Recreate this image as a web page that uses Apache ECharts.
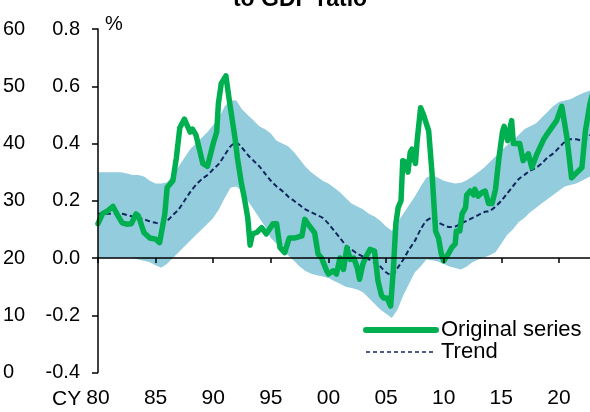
<!DOCTYPE html>
<html>
<head>
<meta charset="utf-8">
<script src="https://cdn.jsdelivr.net/npm/echarts@6/dist/echarts.min.js"></script>
<style>
  html, body { margin: 0; padding: 0; background: #fff; }
  #chart { width: 590px; height: 412px; }
</style>
</head>
<body>
<div id="chart"></div>
<script>
// values, in % (inner axis units)
const xTicks = [1980, 1985, 1990, 1995, 2000, 2005, 2010, 2015, 2020];

const bandYears = [1980, 1981, 1982, 1982.5, 1983, 1983.5, 1984, 1984.5, 1985, 1985.5, 1986, 1986.5,
  1987, 1987.5, 1988, 1988.5, 1989, 1989.5, 1990, 1990.5, 1991, 1991.5, 1992, 1992.5, 1993, 1993.5,
  1994, 1994.5, 1995, 1995.5, 1996, 1996.5, 1997, 1997.5, 1998, 1998.5, 1999, 1999.5, 2000, 2000.5,
  2001, 2001.5, 2002, 2002.5, 2003, 2003.5, 2004, 2004.5, 2005, 2005.5, 2006, 2006.5, 2007, 2007.5,
  2008, 2008.5, 2009, 2009.5, 2010, 2010.5, 2011, 2011.5, 2012, 2012.5, 2013, 2013.5, 2014, 2014.5,
  2015, 2015.5, 2016, 2016.5, 2017, 2017.5, 2018, 2018.5, 2019, 2019.5, 2020, 2020.5, 2021, 2021.5,
  2022, 2022.7];

const bandUpper = [0.30, 0.30, 0.30, 0.295, 0.29, 0.29, 0.285, 0.27, 0.26, 0.26, 0.265, 0.29,
  0.32, 0.35, 0.38, 0.40, 0.42, 0.44, 0.465, 0.49, 0.53, 0.55, 0.55, 0.52, 0.50, 0.48,
  0.46, 0.45, 0.435, 0.41, 0.40, 0.39, 0.37, 0.345, 0.32, 0.30, 0.285, 0.27, 0.26, 0.245,
  0.23, 0.21, 0.19, 0.18, 0.17, 0.155, 0.145, 0.13, 0.11, 0.095, 0.125, 0.155, 0.185, 0.215,
  0.25, 0.28, 0.29, 0.28, 0.27, 0.265, 0.26, 0.263, 0.272, 0.285, 0.30, 0.315, 0.335, 0.355,
  0.375, 0.395, 0.41, 0.43, 0.45, 0.46, 0.47, 0.49, 0.51, 0.53, 0.545, 0.55, 0.555, 0.565,
  0.575, 0.585];

const bandLower = [0.00, 0.00, 0.00, 0.00, 0.00, -0.005, -0.01, -0.015, -0.025, -0.034, -0.02, 0.00,
  0.02, 0.04, 0.06, 0.08, 0.10, 0.12, 0.14, 0.17, 0.21, 0.245, 0.25, 0.235, 0.20, 0.17,
  0.14, 0.11, 0.07, 0.05, 0.03, 0.01, -0.01, -0.03, -0.045, -0.055, -0.06, -0.065, -0.07, -0.08,
  -0.09, -0.10, -0.105, -0.11, -0.12, -0.14, -0.16, -0.18, -0.195, -0.21, -0.18, -0.13, -0.09, -0.05,
  -0.03, -0.005, -0.008, -0.012, -0.02, -0.03, -0.035, -0.04, -0.03, -0.015, -0.005, 0.002, 0.01, 0.02,
  0.05, 0.08, 0.10, 0.125, 0.14, 0.16, 0.175, 0.19, 0.205, 0.22, 0.235, 0.25, 0.255, 0.26,
  0.27, 0.285];

const trend = [0.155, 0.155, 0.155, 0.15, 0.145, 0.14, 0.135, 0.128, 0.123, 0.12, 0.13, 0.15,
  0.17, 0.20, 0.23, 0.255, 0.275, 0.29, 0.31, 0.33, 0.36, 0.39, 0.403, 0.385, 0.36, 0.34,
  0.32, 0.295, 0.27, 0.25, 0.234, 0.215, 0.20, 0.185, 0.17, 0.16, 0.15, 0.14, 0.12, 0.095,
  0.07, 0.045, 0.03, 0.015, 0.005, -0.005, -0.015, -0.03, -0.05, -0.06, -0.035, -0.005, 0.03, 0.06,
  0.10, 0.13, 0.14, 0.125, 0.115, 0.108, 0.11, 0.12, 0.13, 0.14, 0.15, 0.16, 0.165, 0.18,
  0.20, 0.225, 0.25, 0.275, 0.29, 0.305, 0.315, 0.33, 0.35, 0.365, 0.385, 0.405, 0.415, 0.415,
  0.41, 0.43];

const original = [
  [1980.0, 0.12], [1980.4, 0.155], [1980.8, 0.164], [1981.3, 0.18], [1981.7, 0.15], [1982.1, 0.123],
  [1982.5, 0.118], [1982.9, 0.12], [1983.3, 0.154], [1983.5, 0.147], [1984.0, 0.088], [1984.5, 0.07],
  [1985.0, 0.066], [1985.35, 0.054], [1985.8, 0.154], [1986.0, 0.246], [1986.5, 0.27], [1986.8, 0.35],
  [1987.1, 0.455], [1987.5, 0.485], [1988.0, 0.44], [1988.2, 0.45], [1988.5, 0.43], [1989.1, 0.33],
  [1989.5, 0.32], [1990.0, 0.40], [1990.3, 0.44], [1990.45, 0.54], [1990.7, 0.61], [1991.1, 0.636],
  [1991.4, 0.55], [1991.9, 0.416], [1992.1, 0.35], [1992.45, 0.26], [1992.7, 0.21], [1993.0, 0.14],
  [1993.2, 0.045], [1993.4, 0.084], [1993.8, 0.09], [1994.2, 0.106], [1994.6, 0.084], [1995.2, 0.12],
  [1995.5, 0.12], [1995.8, 0.036], [1996.2, 0.019], [1996.6, 0.07], [1997.1, 0.07], [1997.7, 0.077],
  [1997.95, 0.135], [1998.2, 0.12], [1998.8, 0.088], [1999.1, 0.014], [1999.4, 0.0], [1999.85, -0.045],
  [2000.0, -0.056], [2000.4, -0.045], [2000.7, -0.056], [2001.0, 0.0], [2001.3, -0.04], [2001.6, 0.036],
  [2001.9, -0.005], [2002.2, 0.0], [2002.5, -0.034], [2002.7, -0.074], [2003.0, -0.02], [2003.3, 0.007],
  [2003.6, 0.03], [2004.0, 0.024], [2004.3, -0.08], [2004.6, -0.13], [2004.8, -0.14], [2005.1, -0.14],
  [2005.4, -0.168], [2005.65, -0.03], [2005.85, 0.12], [2006.05, 0.176], [2006.3, 0.20], [2006.45, 0.34],
  [2006.75, 0.333], [2006.9, 0.30], [2007.1, 0.37], [2007.25, 0.38], [2007.4, 0.35], [2007.55, 0.33],
  [2007.7, 0.41], [2008.0, 0.525], [2008.25, 0.50], [2008.7, 0.444], [2009.0, 0.29], [2009.3, 0.094],
  [2009.55, 0.07], [2009.8, 0.014], [2010.0, -0.01], [2010.4, 0.014], [2010.7, 0.036], [2011.0, 0.049],
  [2011.1, 0.094], [2011.4, 0.094], [2011.6, 0.154], [2011.9, 0.176], [2012.0, 0.22], [2012.3, 0.234],
  [2012.6, 0.22], [2012.7, 0.24], [2013.0, 0.216], [2013.3, 0.228], [2013.6, 0.234], [2013.9, 0.19],
  [2014.2, 0.19], [2014.5, 0.24], [2014.8, 0.35], [2015.1, 0.44], [2015.25, 0.46], [2015.55, 0.41],
  [2015.9, 0.48], [2016.05, 0.40], [2016.6, 0.40], [2016.9, 0.34], [2017.35, 0.364], [2017.65, 0.316],
  [2018.1, 0.364], [2018.7, 0.416], [2019.1, 0.44], [2019.8, 0.48], [2020.25, 0.53], [2020.7, 0.42],
  [2021.1, 0.28], [2021.6, 0.30], [2022.0, 0.316], [2022.3, 0.444], [2022.7, 0.54], [2022.9, 0.57]
];

const GREEN = '#00b050';
const BAND = '#93cddd';
const NAVY = '#12265e';
const FONT = 'Liberation Sans';

const bandData = bandYears.map((y, i) => [y, bandLower[i], bandUpper[i]]);
const trendData = bandYears.map((y, i) => [y, trend[i]]);

// whole band drawn as one polygon: upper edge forward, lower edge back
function renderBand(params, api) {
  if (params.dataIndex !== 0) return;
  const top = bandData.map(d => api.coord([d[0], d[2]]));
  const bottom = bandData.map(d => api.coord([d[0], d[1]])).reverse();
  return {
    type: 'polygon',
    shape: { points: top.concat(bottom) },
    style: { fill: BAND },
    silent: true
  };
}

const chart = echarts.init(document.getElementById('chart'), null, { renderer: 'canvas' });

chart.setOption({
  animation: false,
  backgroundColor: '#fff',
  textStyle: { fontFamily: FONT, color: '#000' },
  grid: { left: 98, right: 0, top: 29, bottom: 39.5, outerBoundsMode: 'none' },
  legend: {
    orient: 'vertical',
    left: 363,
    top: 319,
    padding: 0,
    itemWidth: 70,
    itemHeight: 14,
    itemGap: 0,
    textStyle: { fontFamily: FONT, fontSize: 22, lineHeight: 21, color: '#000' },
    data: [
      {
        name: 'Original series',
        itemStyle: { opacity: 0 },
        lineStyle: { color: GREEN, width: 6, cap: 'round' }
      },
      {
        name: 'Trend',
        itemStyle: { opacity: 0 },
        lineStyle: { color: NAVY, width: 1.5, type: [4, 3] }
      }
    ]
  },
  xAxis: {
    type: 'value',
    min: 1980,
    max: 2022.7,
    interval: 5,
    z: 5,
    splitLine: { show: false },
    axisLine: { lineStyle: { color: '#000', width: 1.5 } },
    axisTick: { inside: false, length: 5, customValues: xTicks, lineStyle: { color: '#000', width: 1.5 } },
    axisLabel: {
      customValues: xTicks,
      margin: 15,
      fontSize: 21,
      fontFamily: FONT,
      color: '#000',
      formatter: v => String(Math.round(v) % 100).padStart(2, '0')
    }
  },
  yAxis: [
    {
      type: 'value',
      min: -0.4,
      max: 0.8,
      interval: 0.2,
      z: 5,
      splitLine: { show: false },
      axisLine: { show: true, lineStyle: { color: '#000', width: 1.5 } },
      axisTick: { show: true, length: 6, lineStyle: { color: '#000', width: 1.5 } },
      axisLabel: {
        margin: 18,
        fontSize: 20,
        fontFamily: FONT,
        color: '#000',
        formatter: v => v.toFixed(1)
      }
    },
    {
      type: 'value',
      position: 'left',
      offset: 95,
      min: 0,
      max: 60,
      interval: 10,
      splitLine: { show: false },
      axisLine: { show: false },
      axisTick: { show: false },
      axisLabel: { margin: 0, align: 'left', fontSize: 20, fontFamily: FONT, color: '#000' }
    }
  ],
  graphic: [
    {
      type: 'text', x: 300, y: 0,
      style: { text: 'to GDP ratio', font: 'bold 23px ' + FONT, fill: '#000', align: 'center', verticalAlign: 'middle' }
    },
    {
      type: 'text', x: 105, y: 24,
      style: { text: '%', font: '20px ' + FONT, fill: '#000', align: 'left', verticalAlign: 'middle' }
    },
    {
      type: 'text', x: 52, y: 399,
      style: { text: 'CY', font: '21px ' + FONT, fill: '#000', align: 'left', verticalAlign: 'middle' }
    }
  ],
  series: [
    {
      name: 'band',
      type: 'custom',
      renderItem: renderBand,
      data: bandData,
      encode: { x: 0, y: [1, 2] },
      clip: true,
      silent: true,
      z: 1
    },
    {
      name: 'Trend',
      type: 'line',
      data: trendData,
      symbol: 'none',
      smooth: 0.3,
      z: 3,
      itemStyle: { color: NAVY },
      lineStyle: { color: NAVY, width: 2, type: [5, 3] }
    },
    {
      name: 'Original series',
      type: 'line',
      data: original,
      symbol: 'none',
      z: 4,
      itemStyle: { color: GREEN },
      lineStyle: { color: GREEN, width: 5.5, join: 'round', cap: 'round' }
    }
  ]
});
</script>
</body>
</html>
